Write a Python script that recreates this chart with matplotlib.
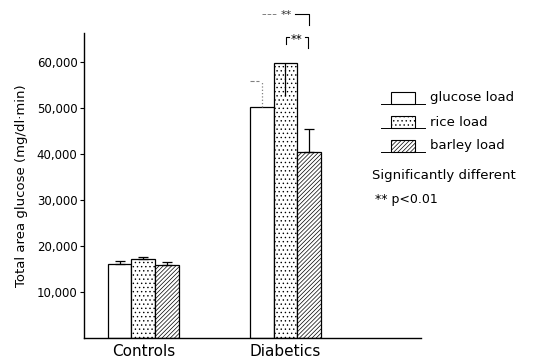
import numpy as np
import matplotlib
matplotlib.use("Agg")
import matplotlib.pyplot as plt
from matplotlib.patches import Rectangle
from matplotlib.lines import Line2D

plt.rcParams['font.family'] = ['DejaVu Sans']
plt.rcParams['hatch.linewidth'] = 0.5

groups = ['Controls', 'Diabetics']
series = ['glucose load', 'rice load', 'barley load']
glucose = [16000, 50100]
rice = [17100, 59800]
barley = [15800, 40400]
# error bars: (down, up)
glucose_err = [(0, 700), (0, 5800)]
rice_err = [(0, 600), (7300, 0)]
barley_err = [(0, 700), (0, 4900)]
yticks = [10000, 20000, 30000, 40000, 50000, 60000]
yticklabels = ['10,000', '20,000', '30,000', '40,000', '50,000', '60,000']

hatches = ['', '....', '////////']
values = [glucose, rice, barley]
errs = [glucose_err, rice_err, barley_err]

fig = plt.figure(figsize=(5.34, 3.6), dpi=100)
ax = fig.add_axes([0.158, 0.061, 0.631, 0.847])

w = 0.167
x = np.arange(len(groups))
for i in range(3):
    xs = x + (i - 1) * w
    ax.bar(xs, values[i], width=w, facecolor='white', edgecolor='black',
           hatch=hatches[i], linewidth=0.9)
    for j in range(len(groups)):
        lo, hi = errs[i][j]
        dotted = (i == 0 and j == 1)
        if dotted:
            # faint dotted error bar, short dashed cap to the left
            ax.plot([xs[j], xs[j]], [values[i][j], values[i][j] + hi],
                    color='gray', lw=0.9, ls=':')
            ax.plot([xs[j] - 0.08, xs[j] - 0.02], [values[i][j] + hi] * 2,
                    color='gray', lw=0.8, ls='--')
            continue
        ax.errorbar(xs[j], values[i][j], yerr=[[lo], [hi]], fmt='none',
                    ecolor='black', elinewidth=0.9, capsize=0 if lo > 0 else 3.5,
                    capthick=0.9)

ax.set_xlim(-0.415, 1.956)
ax.set_ylim(0, 66200)
ax.spines['top'].set_visible(False)
ax.spines['right'].set_visible(False)
ax.spines['left'].set_linewidth(1.0)
ax.spines['bottom'].set_linewidth(1.0)
ax.set_yticks(yticks)
ax.set_yticklabels(yticklabels, fontsize=8.5)
ax.tick_params(axis='y', length=3, pad=2)
ax.set_xticks(x)
ax.set_xticklabels(groups, fontsize=11)
ax.tick_params(axis='x', length=0, pad=4)
ax.set_ylabel('Total area glucose (mg/dl·min)', fontsize=9.5, labelpad=6)

# significance brackets (figure pixel coords -> fraction)
W, H = 534.0, 360.0
def fx(px):
    return px / W
def fy(py):
    return 1 - py / H

fig.add_artist(Line2D([fx(262), fx(277)], [fy(14), fy(14)], color='gray', lw=0.7, ls='--'))
fig.add_artist(Line2D([fx(295), fx(309), fx(309)], [fy(14), fy(14), fy(25)], color='black', lw=0.8))
fig.text(fx(286), fy(15), '**', fontsize=8, ha='center', va='center', color='#333333')
fig.add_artist(Line2D([fx(286), fx(286), fx(289)], [fy(44), fy(37), fy(37)], color='black', lw=0.8))
fig.add_artist(Line2D([fx(305), fx(308), fx(308)], [fy(37), fy(37), fy(48)], color='black', lw=0.8))
fig.text(fx(297), fy(39), '**', fontsize=8.5, ha='center', va='center')

# legend drawn by hand
rows_y = [104, 128, 152]
for k in range(3):
    yb = rows_y[k]
    fig.add_artist(Line2D([fx(381), fx(425)], [fy(yb), fy(yb)], color='black', lw=0.7))
    fig.add_artist(Rectangle((fx(391), fy(yb)), fx(415) - fx(391), fy(yb - 12) - fy(yb),
                             facecolor='white', edgecolor='black', lw=0.8, hatch=hatches[k],
                             transform=fig.transFigure))
    fig.text(fx(430), fy(yb - 6), series[k], fontsize=9.5, ha='left', va='center')
fig.text(fx(372), fy(176), 'Significantly different', fontsize=9.5, ha='left', va='center')
fig.text(fx(375), fy(200), '** p<0.01', fontsize=9, ha='left', va='center')

fig.savefig('out.png', dpi=100)
